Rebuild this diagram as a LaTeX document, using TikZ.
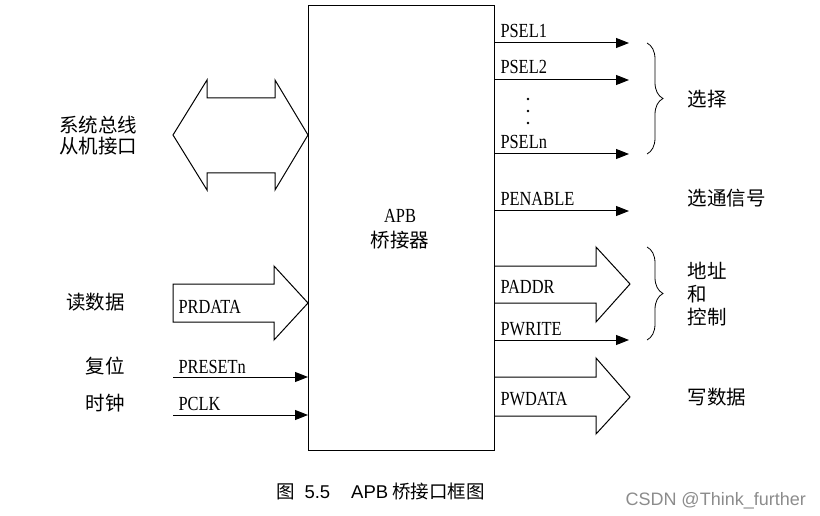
\documentclass[tikz,border=0pt]{standalone}
\usepackage{fontspec}
\setmainfont{Liberation Serif}
\newfontfamily\cjk{Noto Sans CJK SC}
\newfontfamily\lab[FakeStretch=0.82]{Liberation Serif}
\newfontfamily\capsans{Liberation Sans}
\usetikzlibrary{arrows.meta,decorations.pathreplacing}
\begin{document}
\begin{tikzpicture}[x=1pt,y=-1pt,line width=1pt,
  sig/.style={-{Triangle[length=13pt,width=10pt]}},
  lbl/.style={anchor=base west,inner sep=0pt,font=\lab\fontsize{20}{20}\selectfont},
  cn/.style={inner sep=0pt,font=\cjk\fontsize{19.5}{23}\selectfont},
  fat/.style={draw,line width=1pt,line join=miter},
  brc/.style={decorate,decoration={brace,amplitude=16pt,aspect=0.5}}]
\useasboundingbox (0,0) rectangle (820,516);
% main block
\node[draw,minimum width=186pt,minimum height=445pt,inner sep=0pt,anchor=north west] (apb) at (308,5) {};
\node[inner sep=0pt,font=\lab\fontsize{20}{20}\selectfont] (t1) at (400,216) {APB};
\node[cn] (t2) at (400,240) {桥接器};
% left bus double arrow
\draw[fat] (173,135) -- (207,80) -- (207,98) -- (275,98) -- (275,80) -- (308,135)
  -- (275,190) -- (275,173) -- (207,173) -- (207,190) -- cycle;
\node[cn,anchor=west] (sys1) at (59,125) {系统总线};
\node[cn,anchor=west] (sys2) at (59,146) {从机接口};
% PRDATA
\draw[fat] (173,284) -- (274,284) -- (274,266) -- (308,303) -- (274,340) -- (274,322) -- (173,322) -- cycle;
\node[lbl] (prdata) at (178,313) {PRDATA};
\node[cn,anchor=east] (rd) at (125,302) {读数据};
% PRESETn, PCLK
\coordinate (rs0) at (173,377);
\coordinate (ck0) at (173,415);
\draw[sig] (rs0) -- (apb.west |- rs0);
\draw[sig] (ck0) -- (apb.west |- ck0);
\node[lbl] (presetn) at (178,373) {PRESETn};
\node[lbl] (pclk) at (178,410) {PCLK};
\node[cn,anchor=east] (fw) at (125,366) {复位};
\node[cn,anchor=east] (sz) at (125,403) {时钟};
% right select lines
\coordinate (s1) at (629,43);
\coordinate (s2) at (629,80);
\coordinate (sn) at (629,154);
\coordinate (pe) at (629,211);
\coordinate (pw) at (629,340);
\draw[sig] (apb.east |- s1) -- (s1);
\draw[sig] (apb.east |- s2) -- (s2);
\draw[sig] (apb.east |- sn) -- (sn);
\draw[sig] (apb.east |- pe) -- (pe);
\draw[sig] (apb.east |- pw) -- (pw);
\node[lbl] (psel1) at (500,38) {PSEL1};
\node[lbl] (psel2) at (500,74) {PSEL2};
\node[lbl] (pseln) at (500,149) {PSELn};
\node[lbl] (penable) at (500,205) {PENABLE};
\node[lbl] (pwrite) at (500,335) {PWRITE};
\fill (528,99) circle (1.3pt) (528,111) circle (1.3pt) (528,123) circle (1.3pt);
% PADDR fat arrow
\draw[fat] (494,266) -- (596,266) -- (596,247) -- (630,284) -- (596,322) -- (596,303) -- (494,303);
\node[lbl] (paddr) at (500,293) {PADDR};
% PWDATA fat arrow
\draw[fat] (494,377) -- (596,377) -- (596,358) -- (630,397) -- (596,434) -- (596,416) -- (494,416);
\node[lbl] (pwdata) at (500,405) {PWDATA};
% braces
\draw[line width=0.8pt,brc] (647,43) -- (647,154);
\draw[line width=0.8pt,brc] (647,247) -- (647,340);
\node[cn,anchor=west] (xz) at (687,99) {选择};
\node[cn,anchor=west] (xt) at (687,198) {选通信号};
\node[cn,anchor=west] (dz) at (687,271) {地址};
\node[cn,anchor=west] (he) at (687,294) {和};
\node[cn,anchor=west] (kz) at (687,317) {控制};
\node[cn,anchor=west] (xs) at (687,397) {写数据};
% caption
\node[anchor=base west,inner sep=0pt,font=\fontsize{18.5}{18.5}\selectfont] (cap) at (275.5,498)
  {{\cjk 图}\hspace{10pt}{\capsans 5.5}\hspace{21pt}{\capsans APB}\hspace{4pt}{\cjk 桥接口框图}};
\node[anchor=base west,inner sep=0pt,text=black!45,font=\capsans\fontsize{18}{18}\selectfont] (wm) at (625,505) {CSDN @Think\_further};
\end{tikzpicture}
\end{document}
